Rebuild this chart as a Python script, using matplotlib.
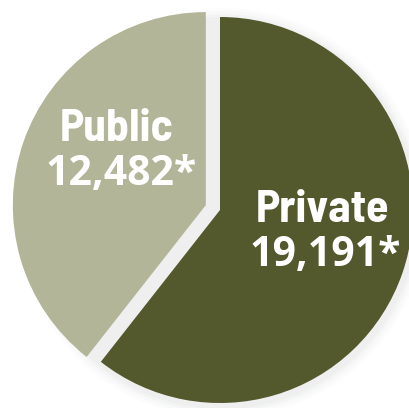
import matplotlib
matplotlib.use("Agg")
import matplotlib.pyplot as plt

categories = ["Public", "Private"]
values = [12482, 19191]
value_labels = ["12,482*", "19,191*"]
colors = ["#B3B598", "#53582D"]

W, H = 409, 408
fig = plt.figure(figsize=(W / 100, H / 100), dpi=100)
ax = fig.add_axes([0, 0, 1, 1])

cx, cy, R = 220, H - 210, 193
# soft drop shadow behind the pie
for i, a in enumerate([0.05, 0.04, 0.03, 0.02]):
    ax.pie([1], radius=R + 3 + 3 * i, center=(cx + 2, cy - 3), colors=["#8a9590"],
           wedgeprops=dict(alpha=a, linewidth=0), frame=True)

wedges, _ = ax.pie(values, startangle=90, counterclock=True, colors=colors,
                   radius=R, center=(cx, cy), explode=[15, 0],
                   wedgeprops=dict(linewidth=0), frame=True)

txt = dict(color="white", fontweight="bold", ha="center", va="baseline")
wf = ["Barlow Semi Condensed", "DejaVu Sans"]
nf = ["Open Sans", "DejaVu Sans"]
ax.text(117, H - 141, categories[0], fontsize=33, family=wf, **txt)
ax.text(121, H - 185, value_labels[0], fontsize=29.5, family=nf, **txt)
ax.text(323, H - 222, categories[1], fontsize=33, family=wf, **txt)
ax.text(325, H - 266, value_labels[1], fontsize=29.5, family=nf, **txt)

ax.set_xlim(0, W)
ax.set_ylim(0, H)
ax.set_aspect("auto")
ax.axis("off")
fig.savefig("out.png", dpi=100)
